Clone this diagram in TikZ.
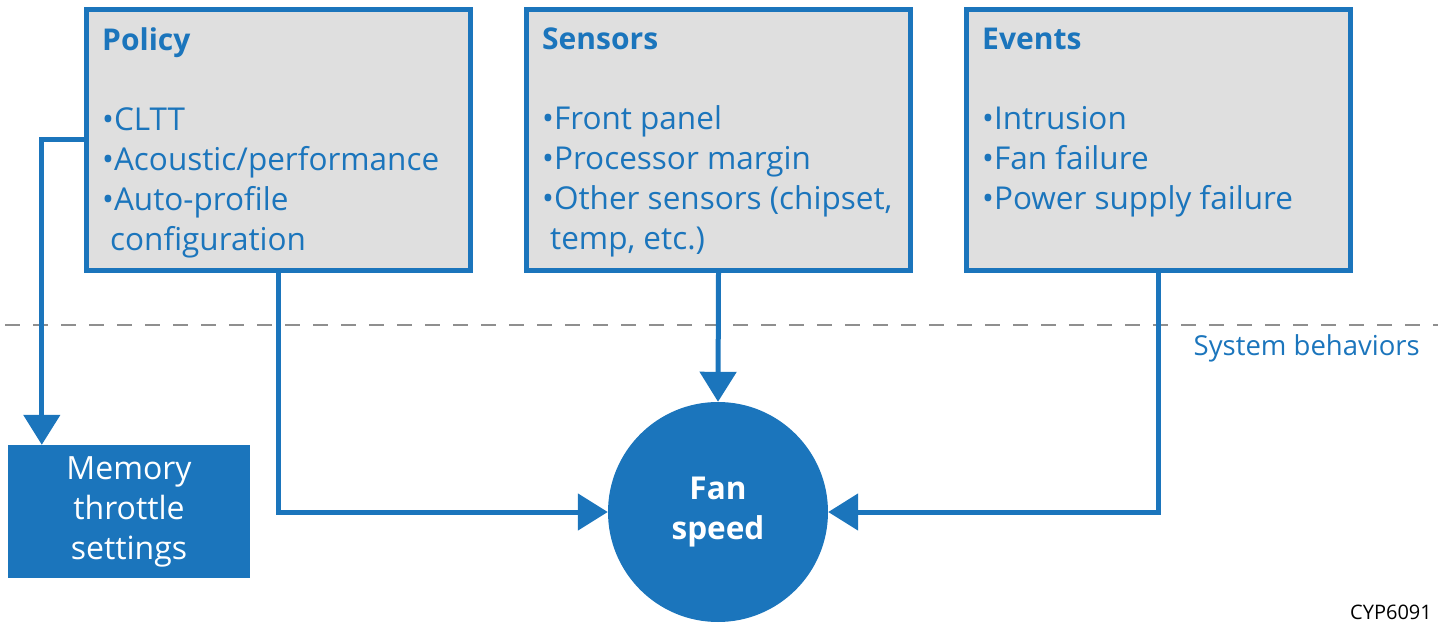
\documentclass[tikz,border=0pt]{standalone}
\usepackage{fontspec}
\setmainfont{Open Sans}
\usepackage{xcolor}
\usetikzlibrary{arrows.meta,calc,positioning}

\definecolor{fanblue}{HTML}{1B75BC}
\definecolor{panelgray}{HTML}{DFDFDF}
\definecolor{dashgray}{HTML}{8F8F8F}

\begin{document}
\begin{tikzpicture}[x=1pt, y=-1pt,
    >={Triangle[width=36pt,length=30pt]},
    node distance=440pt]
  \tikzstyle{panel}=[draw=fanblue,line width=5pt,fill=panelgray,minimum width=384pt,minimum height=260pt,inner sep=0pt]
  \tikzstyle{panel text}=[anchor=north west,inner sep=0pt,text=fanblue,align=left,font=\fontsize{31.5}{40}\selectfont]
  \tikzstyle{link}=[draw=fanblue,line width=5pt]
  \tikzstyle{fan}=[circle,fill=fanblue,text=white,minimum size=220pt,inner sep=0pt,align=center,font=\fontsize{31.5}{40}\selectfont\bfseries]
  \tikzstyle{memory}=[rectangle,fill=fanblue,text=white,minimum width=242pt,minimum height=133pt,inner sep=0pt,align=center,font=\fontsize{32}{40}\selectfont]
  \tikzstyle{divider}=[draw=dashgray,line width=2.5pt,dash pattern=on 15pt off 13pt]

  \useasboundingbox (0,0) rectangle (1438,623);

  % boundary of the system behaviors
  \coordinate (dashL) at (5,325);
  \coordinate (dashR) at (1438,325);
  \draw[divider] (dashL) -- (dashR);

  \node[panel] (policy) at (278.5,140) {};
  \node[panel] (sensors) [right of=policy] {};
  \node[panel] (events) [right of=sensors] {};

  \node[panel text] (policytxt) at ([xshift=18pt,yshift=-20pt]policy.north west)
    {{\fontsize{30}{40}\selectfont\bfseries Policy}\\[40pt]•CLTT\\•Acoustic/performance\\•Auto-profile\\\hspace{8pt}configuration};
  \node[panel text] (sensorstxt) at ([xshift=18pt,yshift=-20pt]sensors.north west)
    {{\fontsize{30}{40}\selectfont\bfseries Sensors}\\[40pt]•Front panel\\•Processor margin\\•Other sensors (chipset,\\\hspace{8pt}temp, etc.)};
  \node[panel text] (eventstxt) at ([xshift=18pt,yshift=-20pt]events.north west)
    {{\fontsize{30}{40}\selectfont\bfseries Events}\\[40pt]•Intrusion\\•Fan failure\\•Power supply failure};

  \node[fan] (fan) at (718,512) {Fan\\speed};
  \node[memory] (mem) at (129,511.5) {Memory\\throttle\\settings};
  \coordinate (memin) at ([xshift=34pt]mem.north west);

  \node[anchor=base east,inner sep=0pt,text=fanblue,font=\fontsize{27.5}{30}\selectfont] (sysbeh) at (1420,355) {System behaviors};
  \node[anchor=base east,inner sep=0pt,font=\fontsize{20}{20}\selectfont] (figid) at (1432,619) {CYP6091};

  \draw[link,->] (policy.west) -| (memin);
  \draw[link,->] (policy.south) |- (fan.west);
  \draw[link,->] (sensors.south) -- (fan.north);
  \draw[link,->] (events.south) |- (fan.east);
\end{tikzpicture}
\end{document}
